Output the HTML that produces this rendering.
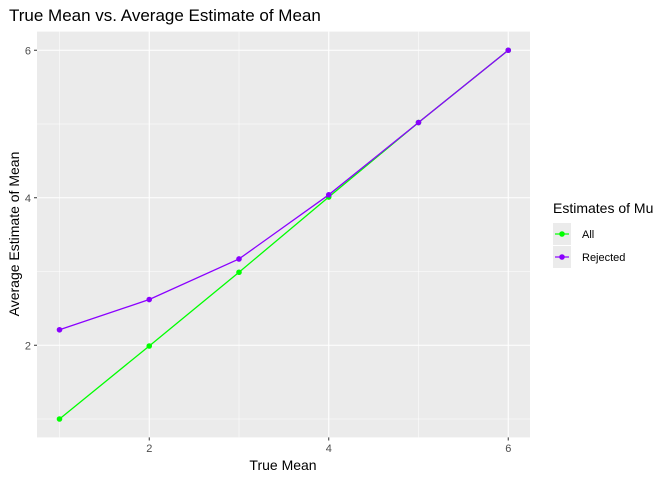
<!DOCTYPE html>
<html><head><meta charset="utf-8"><style>body{margin:0;background:#fff}svg{display:block;font-family:"Liberation Sans",Arial,sans-serif}</style></head>
<body>
<svg id="chart" width="672" height="480" xmlns="http://www.w3.org/2000/svg">
<text x="9" y="21" font-size="17" fill="#000">True Mean vs. Average Estimate of Mean</text>
<rect x="37" y="31.6" width="493" height="405.8" fill="#ebebeb"/>
<g id="grid"></g>
<g id="series"></g>
<g id="axes"></g>
<text x="283" y="470" font-size="14" text-anchor="middle">True Mean</text>
<text transform="translate(19,234) rotate(-90)" font-size="14" text-anchor="middle">Average Estimate of Mean</text>
<g>
<text x="553" y="213" font-size="14">Estimates of Mu</text>
<g>
<rect x="553" y="223" width="18" height="22" fill="#ebebeb"/>
<line x1="555" y1="234" x2="569" y2="234" stroke="#00ff00" stroke-width="1.2"/>
<circle cx="562" cy="234" r="2.8" fill="#00ff00"/>
<text x="582" y="238" font-size="11">All</text></g>
<g>
<rect x="553" y="246" width="18" height="22" fill="#ebebeb"/>
<line x1="555" y1="257" x2="569" y2="257" stroke="#8a00ff" stroke-width="1.2"/>
<circle cx="562" cy="257" r="2.8" fill="#8a00ff"/>
<text x="582" y="261" font-size="11">Rejected</text></g>
</g>
</svg>
<script>
const categories=[1,2,3,4,5,6];
const allValues=[1.0,1.99,2.99,4.01,5.02,6.0];
const rejectedValues=[2.21,2.62,3.17,4.04,5.02,6.0];
const xTicks=[2,4,6];
const yTicks=[2,4,6];
const NS="http://www.w3.org/2000/svg";
const x=v=>59.5+(v-1)*89.75;
const y=v=>419+(1-v)*73.75;
function mk(t,a,p){const e=document.createElementNS(NS,t);for(const k in a)e.setAttribute(k,a[k]);p.appendChild(e);return e;}
const g=document.getElementById('grid'),s=document.getElementById('series'),ax=document.getElementById('axes');
for(let v=1;v<=6;v+=1){
 const gx=mk('line',{x1:x(v),x2:x(v),y1:31.6,y2:437.4,stroke:'#fff','stroke-width':v%2==0?1.1:0.5},g);
 
 
 const gy=mk('line',{x1:37,x2:530,y1:y(v),y2:y(v),stroke:'#fff','stroke-width':v%2==0?1.1:0.5},g);
 
 
}
xTicks.forEach(v=>{
 mk('line',{x1:x(v),x2:x(v),y1:437.4,y2:440.5,stroke:'#333'},ax);
 const t=mk('text',{x:x(v),y:452,'font-size':11,fill:'#4d4d4d','text-anchor':'middle'},ax);t.textContent=v;
 
 
});
yTicks.forEach(v=>{
 mk('line',{x1:34,x2:37,y1:y(v),y2:y(v),stroke:'#333'},ax);
 const t=mk('text',{x:31,y:y(v)+4,'font-size':11,fill:'#4d4d4d','text-anchor':'end'},ax);t.textContent=v;
 
 
});
function series(vals,color,name){
 const l=mk('polyline',{points:categories.map((c,i)=>x(c)+','+y(vals[i])).join(' '),fill:'none',stroke:color,'stroke-width':1.3},s);
 
 
 categories.forEach((c,i)=>{
  const p=mk('circle',{cx:x(c),cy:y(vals[i]),r:2.8,fill:color},s);
  
  
 });
}
series(allValues,'#00ff00','all');
series(rejectedValues,'#8a00ff','rejected');
</script>
</body></html>
